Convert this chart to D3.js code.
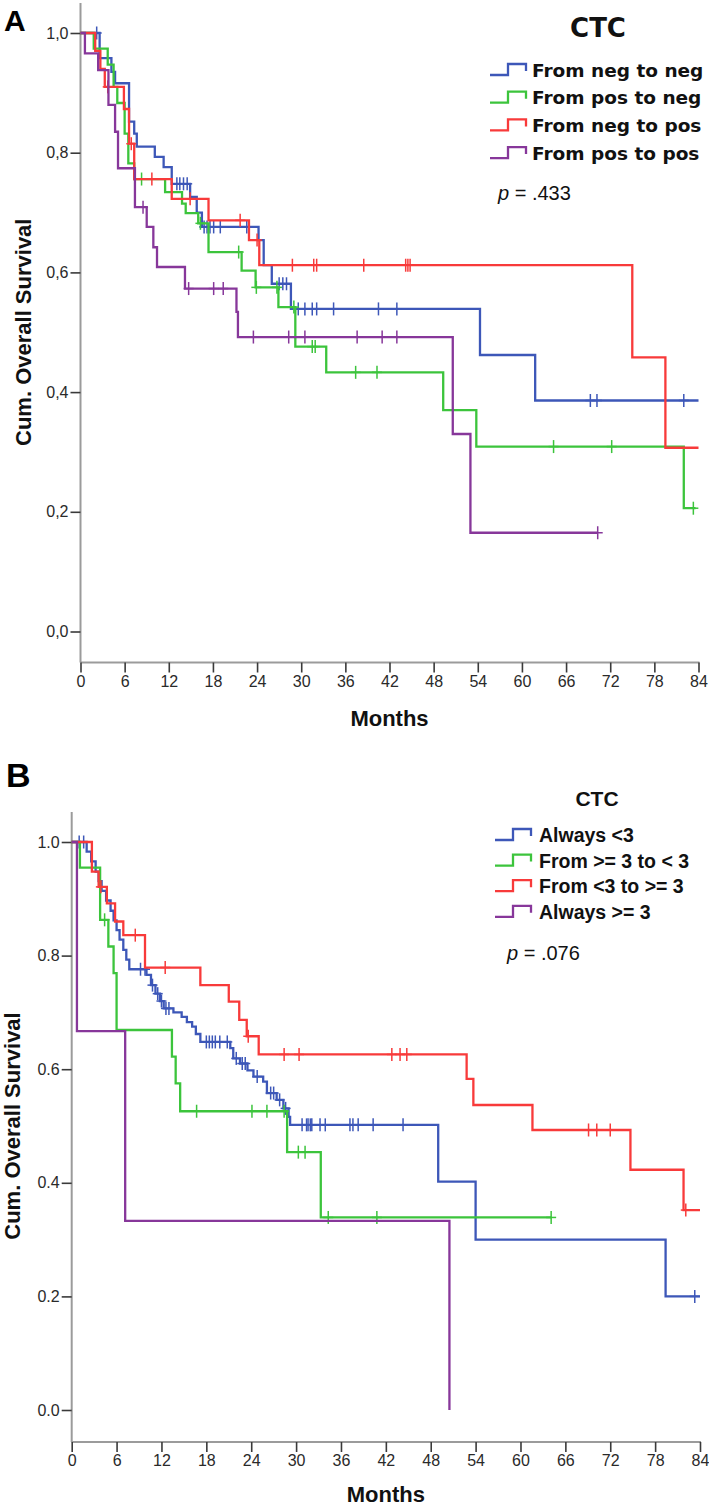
<!DOCTYPE html>
<html>
<head>
<meta charset="utf-8">
<script src="https://cdn.jsdelivr.net/npm/d3@7"></script>
<style>
  html, body { margin: 0; padding: 0; background: #fff; }
  svg { display: block; }
</style>
</head>
<body>
<svg id="chart" width="709" height="1509"></svg>
<script>
// ---------------- DATA ----------------
const monthTicks = [0, 6, 12, 18, 24, 30, 36, 42, 48, 54, 60, 66, 72, 78, 84];
const survTicks = [0, 0.2, 0.4, 0.6, 0.8, 1.0];

// Panel A legend
const legendTitleA = "CTC";
const seriesNamesA = ["From neg to neg", "From pos to neg", "From neg to pos", "From pos to pos"];
const pValueA = ".433";

// Panel A: step events [month, survival], censor times, last follow-up
const aNegNegEvents = [[2.6,0.958],[4.2,0.935],[4.7,0.916],[6.6,0.852],[7.3,0.832],[7.65,0.81],[10.1,0.793],[11.3,0.776],[12.4,0.748],[14.9,0.726],[15.8,0.70],[16.5,0.676],[24.2,0.654],[24.9,0.612],[26.0,0.581],[28.6,0.539],[54.3,0.462],[61.8,0.386]];
const aNegNegCensor = [2.2, 13.1, 13.5, 14.0, 14.5, 16.8, 17.2, 17.6, 18.1, 19.0, 22.6, 27.0, 27.5, 28.0, 29.6, 30.5, 31.5, 32.1, 34.4, 40.5, 43.0, 69.3, 70.2, 82.0];
const aNegNegEnd = 84;

const aPosNegEvents = [[1.8,0.974],[3.7,0.947],[4.5,0.91],[5.0,0.883],[6.0,0.832],[6.5,0.782],[7.3,0.756],[11.5,0.734],[13.8,0.715],[14.3,0.699],[16.0,0.682],[17.4,0.634],[21.9,0.603],[23.8,0.575],[26.9,0.542],[29.2,0.476],[33.4,0.433],[49.3,0.37],[53.8,0.309],[82.0,0.206]];
const aPosNegCensor = [8.3, 16.3, 21.5, 23.9, 26.7, 29.0, 31.5, 31.9, 37.4, 40.3, 64.3, 72.2, 83.3];
const aPosNegEnd = 83.6;

const aNegPosEvents = [[2.0,0.97],[2.7,0.94],[3.3,0.91],[5.9,0.873],[6.6,0.815],[7.3,0.756],[12.4,0.723],[17.4,0.687],[22.9,0.654],[24.3,0.612],[75.0,0.458],[79.5,0.307]];
const aNegPosCensor = [3.7, 6.9, 9.7, 14.9, 21.7, 24.0, 28.8, 31.7, 32.1, 38.5, 44.2, 44.5, 44.8];
const aNegPosEnd = 84;

const aPosPosEvents = [[0.6,0.966],[2.4,0.938],[3.8,0.88],[4.7,0.835],[5.1,0.774],[7.4,0.709],[9.0,0.676],[9.9,0.642],[10.4,0.609],[14.2,0.573],[21.2,0.534],[21.4,0.492],[50.6,0.33],[53.0,0.165]];
const aPosPosCensor = [8.5, 14.7, 18.1, 19.4, 23.5, 28.3, 30.5, 37.6, 41.0, 43.0, 70.3];
const aPosPosEnd = 70.3;

// Panel B legend
const legendTitleB = "CTC";
const seriesNamesB = ["Always <3", "From >= 3 to < 3", "From <3 to >= 3", "Always >= 3"];
const pValueB = ".076";

const bAlwaysLtEvents = [[2.0,0.983],[2.6,0.966],[3.2,0.948],[3.6,0.931],[4.0,0.914],[4.6,0.897],[5.2,0.879],[5.6,0.862],[6.0,0.845],[6.4,0.828],[6.9,0.81],[7.3,0.793],[7.7,0.776],[10.0,0.766],[10.6,0.748],[11.2,0.733],[11.8,0.72],[12.3,0.707],[13.6,0.70],[14.7,0.692],[15.4,0.683],[16.1,0.675],[16.6,0.662],[17.2,0.648],[21.2,0.637],[21.6,0.619],[22.5,0.61],[23.5,0.598],[24.3,0.587],[25.6,0.578],[26.1,0.558],[27.4,0.546],[28.3,0.531],[29.0,0.516],[29.2,0.502],[49.0,0.402],[54.0,0.30],[79.4,0.20]];
const bAlwaysLtCensor = [1.0, 1.6, 9.2, 9.8, 10.8, 11.5, 12.0, 12.6, 13.0, 18.0, 18.4, 18.8, 19.2, 19.8, 20.8, 22.0, 22.8, 23.2, 24.8, 26.6, 27.0, 27.8, 28.6, 30.8, 31.4, 31.6, 31.9, 32.1, 33.2, 33.9, 37.2, 37.6, 38.3, 40.3, 44.3, 83.3];
const bAlwaysLtEnd = 84;

const bGeToLtEvents = [[1.1,0.955],[3.8,0.863],[4.9,0.816],[5.6,0.769],[6.0,0.669],[13.4,0.622],[13.9,0.575],[14.5,0.526],[28.8,0.454],[33.3,0.339]];
const bGeToLtCensor = [4.4, 16.7, 24.1, 26.1, 28.4, 30.3, 31.2, 34.3, 40.8, 64.1];
const bGeToLtEnd = 64.1;

const bLtToGeEvents = [[2.7,0.948],[3.6,0.921],[4.7,0.892],[5.8,0.86],[6.9,0.836],[9.8,0.779],[17.2,0.748],[21.0,0.719],[22.4,0.687],[23.4,0.658],[25.0,0.626],[52.8,0.583],[53.7,0.537],[61.6,0.493],[74.7,0.423],[81.8,0.352]];
const bLtToGeCensor = [3.9, 8.5, 12.5, 23.6, 28.4, 30.4, 42.8, 43.9, 44.8, 69.1, 70.2, 72.0, 82.1];
const bLtToGeEnd = 84;

const bAlwaysGeEvents = [[0.7,0.667],[7.15,0.333],[50.5,0.0]];
const bAlwaysGeCensor = [];
const bAlwaysGeEnd = 50.5;

// ---------------- STYLE ----------------
const colors = ["#3d57b8", "#3cc43c", "#f83a3a", "#87379a"];

const svg = d3.select("#chart");

function drawPanel(cfg) {
  const g = svg.append("g");
  const x = d3.scaleLinear().domain([0, 84]).range([cfg.x0, cfg.x1]);
  const y = d3.scaleLinear().domain([0, 1]).range([cfg.y0, cfg.y1]);

  // axes lines
  g.append("line").attr("x1", cfg.x0).attr("x2", cfg.x0).attr("y1", cfg.axisTop).attr("y2", cfg.axisY)
    .attr("stroke", "#9b9b9b").attr("stroke-width", 2);
  g.append("line").attr("x1", cfg.x0).attr("x2", cfg.x1 + 1).attr("y1", cfg.axisY).attr("y2", cfg.axisY)
    .attr("stroke", "#9b9b9b").attr("stroke-width", 2);

  // y axis ticks via d3 axis
  const yAxis = d3.axisLeft(y).tickValues(survTicks).tickSize(10).tickPadding(2)
    .tickFormat(d => d3.format(".1f")(d).replace(".", cfg.decimal));
  const ya = g.append("g").attr("transform", `translate(${cfg.x0},0)`).call(yAxis);
  ya.select(".domain").remove();
  ya.selectAll(".tick line").attr("stroke", "#3a3a3a").attr("stroke-width", 1.6);
  ya.selectAll(".tick text").attr("fill", "#2a2a2a").attr("font-family", "Liberation Sans, Arial, sans-serif")
    .attr("font-size", 16);

  // x axis ticks
  const xAxis = d3.axisBottom(x).tickValues(monthTicks).tickSize(10).tickPadding(3);
  const xa = g.append("g").attr("transform", `translate(0,${cfg.axisY})`).call(xAxis);
  xa.select(".domain").remove();
  xa.selectAll(".tick line").attr("stroke", "#3a3a3a").attr("stroke-width", 1.6);
  xa.selectAll(".tick text").attr("fill", "#2a2a2a").attr("font-family", "Liberation Sans, Arial, sans-serif")
    .attr("font-size", 16);

  // axis titles
  g.append("text").attr("x", (cfg.x0 + cfg.x1) / 2).attr("y", cfg.monthsY)
    .attr("text-anchor", "middle").attr("font-family", "Liberation Sans, Arial, sans-serif")
    .attr("font-weight", "bold").attr("font-size", 22).attr("fill", "#111").text("Months");
  g.append("text")
    .attr("transform", `translate(${cfg.yTitleX},${(cfg.y0 + cfg.y1) / 2}) rotate(-90)`)
    .attr("text-anchor", "middle").attr("font-family", "Liberation Sans, Arial, sans-serif")
    .attr("font-weight", "bold").attr("font-size", 22).attr("fill", "#111").text("Cum. Overall Survival");

  // panel letter
  g.append("text").attr("x", cfg.letterX).attr("y", cfg.letterY)
    .attr("font-family", "Liberation Sans, Arial, sans-serif").attr("font-weight", "bold")
    .attr("font-size", cfg.letterSize).attr("fill", "#000").text(cfg.letter);

  // curves
  const line = d3.line().x(d => x(d[0])).y(d => y(d[1])).curve(d3.curveStepAfter);
  cfg.curves.forEach((c, i) => {
    const pts = [[0, 1]].concat(c.events);
    const last = pts[pts.length - 1];
    if (c.end > last[0]) pts.push([c.end, last[1]]);
    g.append("path").attr("d", line(pts)).attr("fill", "none")
      .attr("stroke", colors[i]).attr("stroke-width", 2.3).attr("stroke-linejoin", "miter");
    const survAt = t => { let s = 1; c.events.forEach(e => { if (e[0] <= t) s = e[1]; }); return s; };
    c.censor.forEach(t => {
      const cx = x(t), cy = y(survAt(t));
      g.append("line").attr("x1", cx).attr("x2", cx).attr("y1", cy - 6.5).attr("y2", cy + 6.5)
        .attr("stroke", colors[i]).attr("stroke-width", 1.5);
      g.append("line").attr("x1", cx - 5).attr("x2", cx + 5).attr("y1", cy).attr("y2", cy)
        .attr("stroke", colors[i]).attr("stroke-width", 1.5);
    });
  });

  // legend
  const L = cfg.legend;
  g.append("text").attr("x", L.titleX).attr("y", L.titleY).attr("text-anchor", "middle")
    .attr("dominant-baseline", "central").attr("font-family", L.font).attr("font-weight", "bold")
    .attr("font-size", L.titleSize).attr("fill", "#111").text(L.title);
  L.names.forEach((name, i) => {
    const cy = L.itemY0 + i * L.itemGap;
    const sx = L.symX;
    g.append("path")
      .attr("d", `M${sx},${cy + 5} H${sx + 18} V${cy - 6} H${sx + 36} V${cy + 1}`)
      .attr("fill", "none").attr("stroke", colors[i]).attr("stroke-width", 2.3);
    g.append("text").attr("x", L.textX).attr("y", cy).attr("dominant-baseline", "central")
      .attr("font-family", L.font).attr("font-weight", "bold").attr("font-size", L.itemSize)
      .attr("fill", "#111").text(name);
  });
  const pt = g.append("text").attr("x", L.pX).attr("y", L.pY).attr("dominant-baseline", "central")
    .attr("font-family", "Liberation Sans, Arial, sans-serif").attr("font-size", 20).attr("fill", "#111");
  pt.append("tspan").attr("font-style", "italic").text("p");
  pt.append("tspan").text(" = " + L.p);
}

drawPanel({
  letter: "A", letterX: 4, letterY: 31, letterSize: 30,
  x0: 80.5, x1: 698.5, y0: 631.5, y1: 33, axisTop: 3, axisY: 662.5,
  monthsY: 726, yTitleX: 31, decimal: ",",
  curves: [
    { events: aNegNegEvents, censor: aNegNegCensor, end: aNegNegEnd },
    { events: aPosNegEvents, censor: aPosNegCensor, end: aPosNegEnd },
    { events: aNegPosEvents, censor: aNegPosCensor, end: aNegPosEnd },
    { events: aPosPosEvents, censor: aPosPosCensor, end: aPosPosEnd }
  ],
  legend: { title: legendTitleA, names: seriesNamesA, p: pValueA,
    font: "DejaVu Sans, Verdana, sans-serif", titleSize: 26, itemSize: 18.5,
    titleX: 598, titleY: 28, itemY0: 70, itemGap: 27.7, symX: 490, textX: 532, pX: 498, pY: 193 }
});

drawPanel({
  letter: "B", letterX: 6, letterY: 787, letterSize: 34,
  x0: 71.7, x1: 700, y0: 1410, y1: 842, axisTop: 812, axisY: 1442,
  monthsY: 1502, yTitleX: 20, decimal: ".",
  curves: [
    { events: bAlwaysLtEvents, censor: bAlwaysLtCensor, end: bAlwaysLtEnd },
    { events: bGeToLtEvents, censor: bGeToLtCensor, end: bGeToLtEnd },
    { events: bLtToGeEvents, censor: bLtToGeCensor, end: bLtToGeEnd },
    { events: bAlwaysGeEvents, censor: bAlwaysGeCensor, end: bAlwaysGeEnd }
  ],
  legend: { title: legendTitleB, names: seriesNamesB, p: pValueB,
    font: "Liberation Sans, Arial, sans-serif", titleSize: 21, itemSize: 19.5,
    titleX: 597, titleY: 798, itemY0: 835, itemGap: 25.6, symX: 495, textX: 539, pX: 507, pY: 953 }
});
</script>
</body>
</html>
